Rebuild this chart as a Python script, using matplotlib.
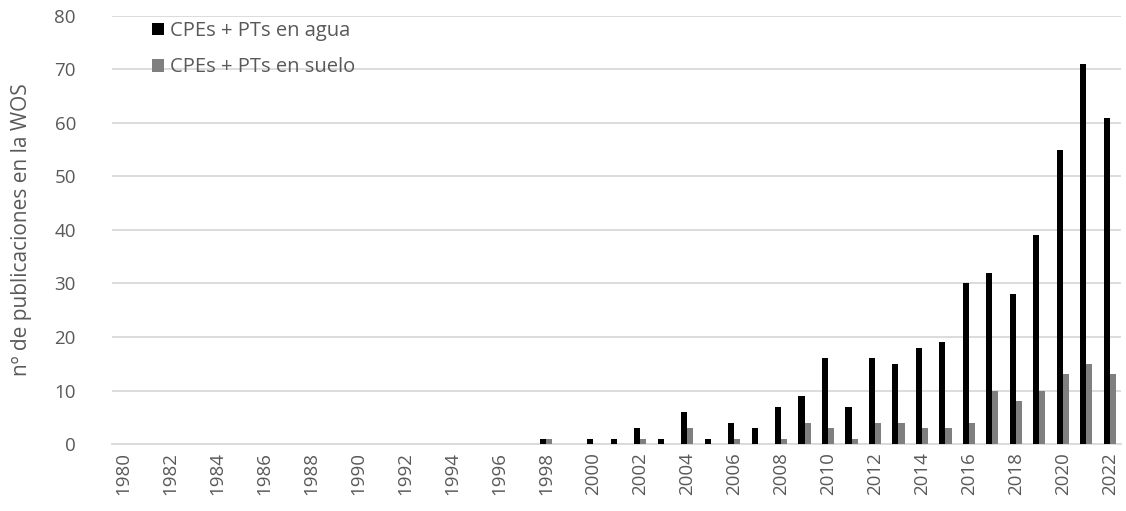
import matplotlib.pyplot as plt
import numpy as np

plt.rcParams["font.family"] = ["Open Sans", "DejaVu Sans"]

years = list(range(1980, 2023))
agua = [0] * 18 + [1, 0, 1, 1, 3, 1, 6, 1, 4, 3, 7, 9, 16, 7, 16, 15, 18, 19,
                   30, 32, 28, 39, 55, 71, 61]
suelo = [0] * 18 + [1, 0, 0, 0, 1, 0, 3, 0, 1, 0, 1, 4, 3, 1, 4, 4, 3, 3,
                    4, 10, 8, 10, 13, 15, 13]

txt = "#595959"
x = np.arange(len(years))
w = 0.26

fig = plt.figure(figsize=(11.26, 5.11), dpi=100)
ax = fig.add_axes([0.0995, 0.131, 0.8965, 0.838])

ax.bar(x - w / 2, agua, w, color="black", label="CPEs + PTs en agua", zorder=3)
ax.bar(x + w / 2, suelo, w, color="#7f7f7f", label="CPEs + PTs en suelo", zorder=3)

ax.set_ylim(0, 80)
ax.set_yticks(range(0, 81, 10))
ax.set_xlim(-0.5, len(years) - 0.5)
ax.set_xticks(x[::2])
ax.set_xticklabels([str(y) for y in years[::2]], rotation=90)
ax.tick_params(axis="both", length=0, colors=txt, labelsize=13.5)
ax.tick_params(axis="y", pad=26)
ax.tick_params(axis="x", pad=6)
ax.grid(axis="y", color="#d9d9d9", linewidth=1.3, zorder=0)
for s in ["top", "right", "left"]:
    ax.spines[s].set_visible(False)
ax.spines["bottom"].set_color("#d9d9d9")
ax.spines["bottom"].set_linewidth(1.3)

ax.set_ylabel("nº de publicaciones en la WOS", color=txt, fontsize=15, labelpad=16)

ax.legend(loc="upper left", bbox_to_anchor=(0.022, 1.03), frameon=False,
          fontsize=14.5, labelcolor=txt, handlelength=0.6, handleheight=0.6,
          handletextpad=0.3, labelspacing=0.8)

fig.savefig("out.png")
